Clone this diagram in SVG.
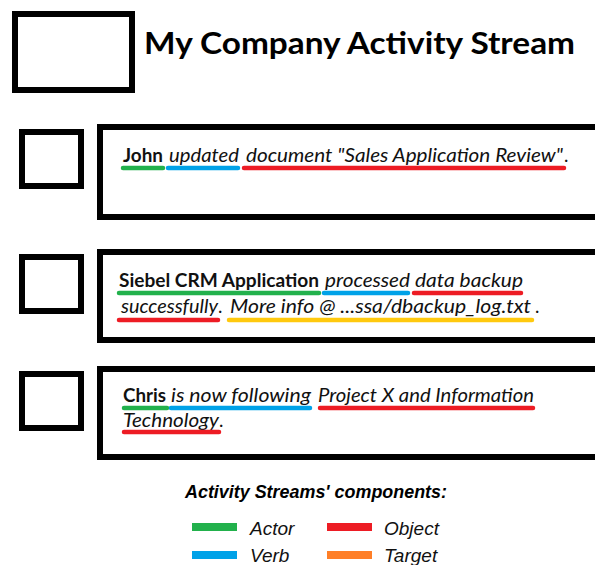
<svg xmlns="http://www.w3.org/2000/svg" width="595" height="565" viewBox="0 0 595 565">
  <style>
    .frame { fill: #ffffff; stroke: #000000; stroke-width: 6; }
    .title { font-family: Lato, "Open Sans", sans-serif; font-weight: bold; font-size: 31px; fill: #000; }
    .msg { font-family: Lato, "Open Sans", sans-serif; font-size: 18.5px; fill: #111; }
    .actor { font-weight: bold; }
    .it { font-style: italic; }
    .ul { fill: none; stroke-width: 4.5; stroke-linecap: round; }
    .g { stroke: #22b14c; }
    .b { stroke: #00a2e8; }
    .r { stroke: #ed1c24; }
    .y { stroke: #ffc90e; }
    .o { stroke: #ff7f27; }
    .leghead { font-family: "Liberation Sans", Arial, sans-serif; font-weight: bold; font-style: italic; font-size: 17.5px; fill: #000; }
    .legtxt { font-family: "Liberation Sans", Arial, sans-serif; font-style: italic; font-size: 19px; fill: #111; }
    .bar { stroke-width: 8; }
  </style>
  <rect width="595" height="565" fill="#ffffff"/>

  <!-- header -->
  <g id="header">
    <rect class="frame" x="15" y="14" width="117" height="76"/>
    <text class="title" x="144" y="54" textLength="431" lengthAdjust="spacingAndGlyphs">My Company Activity Stream</text>
  </g>

  <!-- entry 1 -->
  <g id="entry1">
    <rect class="frame" x="22" y="132" width="59" height="54"/>
    <rect class="frame" x="100" y="127" width="520" height="90"/>
    <text class="msg" y="162"><tspan class="actor" x="123" textLength="40" lengthAdjust="spacingAndGlyphs">John</tspan><tspan class="it" x="169" textLength="70" lengthAdjust="spacingAndGlyphs">updated</tspan><tspan class="it" x="246" textLength="317" lengthAdjust="spacingAndGlyphs">document "Sales Application Review"</tspan><tspan x="564">.</tspan></text>
  </g>

  <!-- entry 2 -->
  <g id="entry2">
    <rect class="frame" x="22" y="257" width="59" height="54"/>
    <rect class="frame" x="100" y="252" width="520" height="88"/>
    <text class="msg" y="287"><tspan class="actor" x="119" textLength="200" lengthAdjust="spacingAndGlyphs">Siebel CRM Application</tspan><tspan class="it" x="325" textLength="85" lengthAdjust="spacingAndGlyphs">processed</tspan><tspan class="it" x="415" textLength="108" lengthAdjust="spacingAndGlyphs">data backup</tspan></text>
    <text class="msg" y="313"><tspan class="it" x="121" textLength="97" lengthAdjust="spacingAndGlyphs">successfully</tspan><tspan x="218">.</tspan><tspan class="it" x="230" textLength="301" lengthAdjust="spacingAndGlyphs">More info @ ...ssa/dbackup_log.txt</tspan><tspan x="535">.</tspan></text>
  </g>

  <!-- entry 3 -->
  <g id="entry3">
    <rect class="frame" x="22" y="374" width="59" height="54"/>
    <rect class="frame" x="100" y="369" width="520" height="88"/>
    <text class="msg" y="402"><tspan class="actor" x="123" textLength="43" lengthAdjust="spacingAndGlyphs">Chris</tspan><tspan class="it" x="171" textLength="140" lengthAdjust="spacingAndGlyphs">is now following</tspan><tspan class="it" x="318" textLength="216" lengthAdjust="spacingAndGlyphs">Project X and Information</tspan></text>
    <text class="msg" y="427"><tspan class="it" x="123" textLength="96" lengthAdjust="spacingAndGlyphs">Technology</tspan><tspan x="219">.</tspan></text>
  </g>

  <!-- component underlines -->
  <g id="underlines">
    <line class="ul g" x1="123" y1="168" x2="163" y2="168"/>
    <line class="ul b" x1="168" y1="168" x2="238" y2="168"/>
    <line class="ul r" x1="244" y1="168" x2="564" y2="168"/>

    <line class="ul g" x1="119" y1="293" x2="319" y2="293"/>
    <line class="ul b" x1="324" y1="293" x2="408" y2="293"/>
    <line class="ul r" x1="414" y1="293" x2="521" y2="293"/>
    <line class="ul r" x1="119" y1="320" x2="218" y2="320"/>
    <line class="ul y" x1="229" y1="320" x2="532" y2="320"/>

    <line class="ul g" x1="124" y1="408" x2="167" y2="408"/>
    <line class="ul b" x1="171" y1="408" x2="310" y2="408"/>
    <line class="ul r" x1="320" y1="408" x2="533" y2="408"/>
    <line class="ul r" x1="124" y1="432" x2="219" y2="432"/>
  </g>

  <!-- legend -->
  <g id="legend">
    <text class="leghead" x="185" y="498" textLength="262" lengthAdjust="spacingAndGlyphs">Activity Streams' components:</text>
    <line class="bar g" x1="192" y1="527" x2="237" y2="527"/>
    <text class="legtxt" x="250" y="535">Actor</text>
    <line class="bar r" x1="327" y1="527" x2="372" y2="527"/>
    <text class="legtxt" x="384" y="535">Object</text>
    <line class="bar b" x1="192" y1="555" x2="237" y2="555"/>
    <text class="legtxt" x="250" y="562">Verb</text>
    <line class="bar o" x1="327" y1="555" x2="372" y2="555"/>
    <text class="legtxt" x="384" y="562">Target</text>
  </g>
</svg>
